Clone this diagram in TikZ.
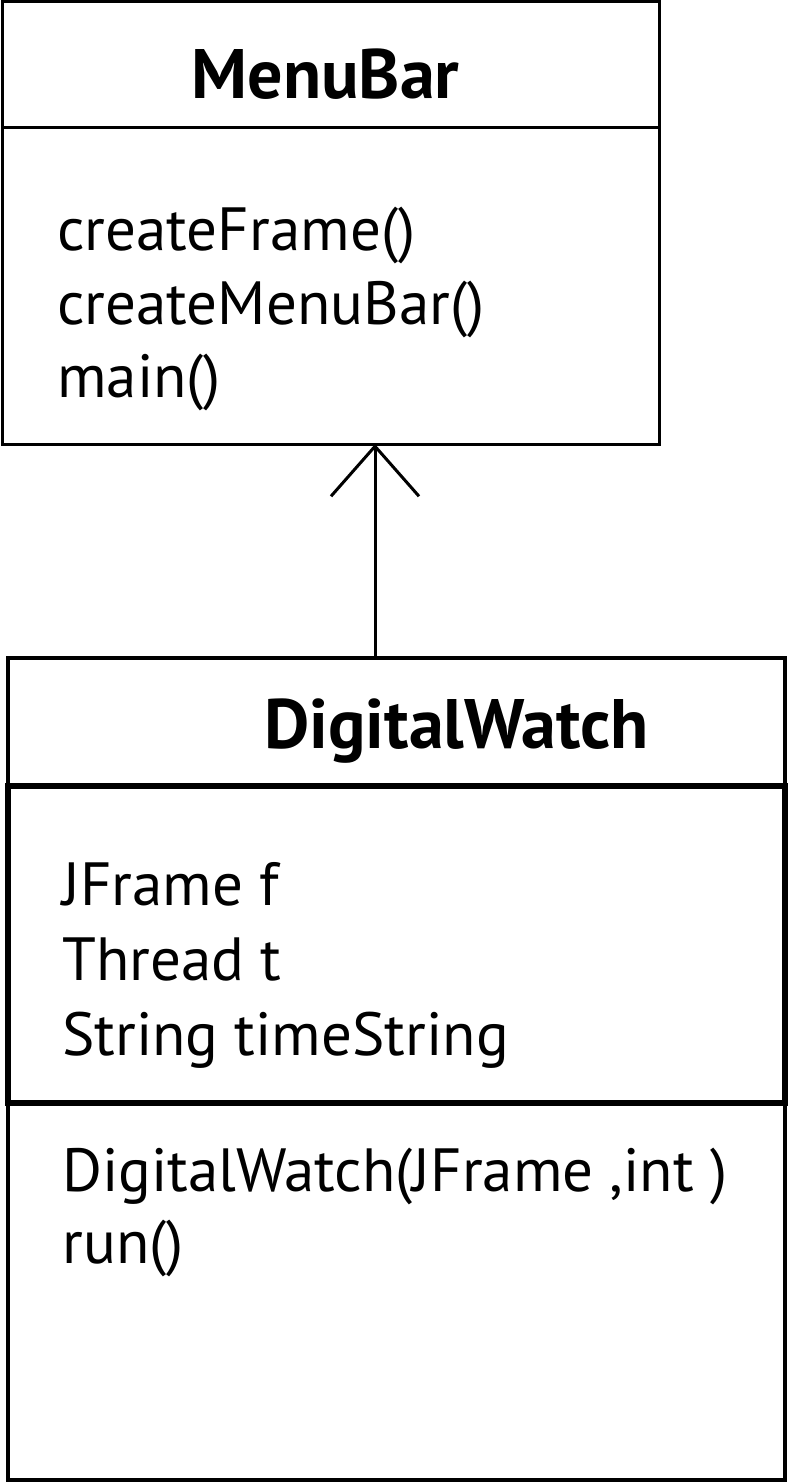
\documentclass[tikz,border=0pt]{standalone}
\usepackage{fontspec}
\setmainfont{PT Sans}
\usetikzlibrary{arrows.meta, positioning}

\tikzset{
    classbox/.style={draw, rectangle, outer sep=0pt, inner sep=0pt},
    member/.style={anchor=base west, inner sep=0pt, font=\fontsize{30.5}{36}\selectfont},
    classname/.style={anchor=base, inner sep=0pt, font=\fontsize{35}{40}\selectfont\bfseries},
    inherit/.style={line width=1.5pt, -{Straight Barb[length=25pt, width=44pt, line width=1.5pt]}}
}

\begin{document}
\begin{tikzpicture}[x=0.5pt, y=-0.5pt]
        \useasboundingbox (0,0) rectangle (789,1482);
        % MenuBar class
        \node[classbox, line width=1.5pt, minimum width=328.5pt, minimum height=221pt] (menu) at (330.5,223) {};
        \draw[line width=1.5pt] (menu.west |- 0,128) -- (menu.east |- 0,128);
        \node[classname] (menuname) at (325.5,99) {MenuBar};
        \node[member] (mcreateframe) at (57,250) {createFrame()};
        \node[member] (mcreatemenubar) at (57,324) {createMenuBar()};
        \node[member] (mmain) at (57,397) {main()};

        % DigitalWatch class
        \node[classbox, line width=2pt, minimum width=388.5pt, minimum height=411pt] (watch) at (396.5,1069) {};
        \node[classbox, line width=3pt, minimum width=388.5pt, minimum height=158.5pt] (watchattr) at (396.5,944.5) {};
        \node[classname] (watchname) at (456.5,748) {DigitalWatch};
        \node[member] (af) at (62,905) {JFrame f};
        \node[member] (at) at (62,980) {Thread t};
        \node[member] (atime) at (62,1055) {String timeString};
        \node[member] (mctor) at (62,1191) {DigitalWatch(JFrame ,int )};
        \node[member] (mrun) at (62,1263) {run()};

        % generalisation
        \draw[inherit] (watch.north -| 375,0) -- (menu.south -| 375,0);
\end{tikzpicture}
\end{document}
